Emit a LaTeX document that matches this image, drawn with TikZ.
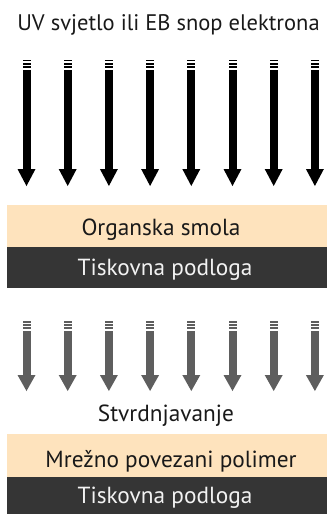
\documentclass[tikz,border=0pt]{standalone}
\usepackage{fontspec}
\setmainfont{PT Sans}
\definecolor{resin}{HTML}{FEE3BD}
\definecolor{substrate}{HTML}{353535}
\definecolor{cureGray}{HTML}{5E5E5E}
\definecolor{lighttext}{HTML}{F2F2F2}
\begin{document}
\begin{tikzpicture}[x=1pt,y=-1pt,
  lbl/.style={anchor=base,inner sep=0pt,font=\fontsize{23.3}{26}\selectfont},
  band/.style={anchor=north west,inner sep=0pt,minimum width=320pt}]
\useasboundingbox (0,0) rectangle (327,514);
% title
\node[lbl,text=black!90,font=\fontsize{22.5}{26}\selectfont] (title) at (168.5,30) {UV svjetlo ili EB snop elektrona};
% black arrows
\foreach \i in {0,...,7}{
  \pgfmathsetmacro\x{26.5+41.2*\i}
  \fill[black] (\x-4,59.5) rectangle (\x+4,61);
  \fill[black] (\x-4,63) rectangle (\x+4,64.5);
  \fill[black] (\x-4,66) rectangle (\x+4,68);
  \fill[black] (\x-4,70) rectangle (\x+4,169.5);
  \fill[black] (\x-9,169) -- (\x+9,169) -- (\x,186) -- cycle;
}
% top layers
\node[band,fill=resin,minimum height=42pt] (resinA) at (7,205) {};
\node[band,fill=substrate,minimum height=41pt] (subA) at (7,247) {};
\node[lbl,text=black!90] (resinAtext) at (161,235) {Organska smola};
\node[lbl,text=lighttext] (subAtext) at (165,275) {Tiskovna podloga};
% gray arrows
\foreach \i in {0,...,7}{
  \pgfmathsetmacro\x{26.5+41.2*\i}
  \fill[cureGray] (\x-4,321) rectangle (\x+4,322.5);
  \fill[cureGray] (\x-4,324) rectangle (\x+4,325.5);
  \fill[cureGray] (\x-4,327) rectangle (\x+4,329);
  \fill[cureGray] (\x-4,331) rectangle (\x+4,375.5);
  \fill[cureGray] (\x-9,375) -- (\x+9,375) -- (\x,391) -- cycle;
}
\node[lbl,text=black!90] (cure) at (166,421) {Stvrdnjavanje};
% bottom layers
\node[band,fill=resin,minimum height=43pt] (resinB) at (7,434) {};
\node[band,fill=substrate,minimum height=37pt] (subB) at (7,477) {};
\node[lbl,text=black!90] (resinBtext) at (171,467) {Mrežno povezani polimer};
\node[lbl,text=lighttext] (subBtext) at (165,503) {Tiskovna podloga};
\end{tikzpicture}
\end{document}
